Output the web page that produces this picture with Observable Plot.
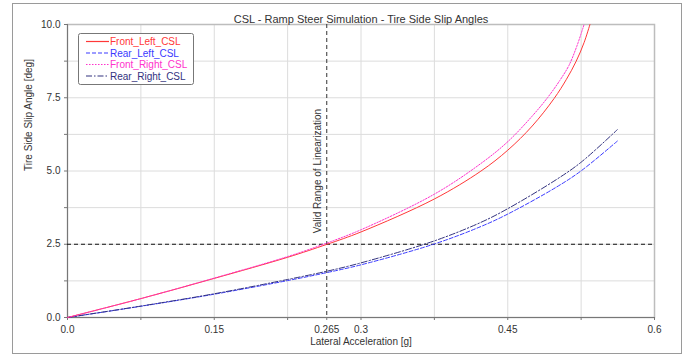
<!DOCTYPE html>
<html>
<head>
<meta charset="utf-8">
<script src="https://cdn.jsdelivr.net/npm/d3@7"></script>
<script src="https://cdn.jsdelivr.net/npm/@observablehq/plot@0.6"></script>
<style>
  html, body { margin: 0; padding: 0; background: #fff; }
  #wrap { position: relative; width: 686px; height: 356px; font-family: "Liberation Sans", Arial, sans-serif; }
  #border { position: absolute; left: 12px; top: 3px; width: 668px; height: 349px; border: 1px solid #9a9a9a; pointer-events: none; }
  #legend { position: absolute; left: 78px; top: 33px; }
</style>
</head>
<body>
<div id="wrap"><div id="border"></div></div>
<script>
// ---- data ----
const titleText = "CSL - Ramp Steer Simulation - Tire Side Slip Angles";
const xLabel = "Lateral Acceleration [g]";
const yLabel = "Tire Side Slip Angle [deg]";
const refLabel = "Valid Range of Linearization";
const refX = 0.265;
const refY = 2.5;

const xTicks = [0, 0.15, 0.265, 0.3, 0.45, 0.6];
const xTickLabels = ["0.0", "0.15", "0.265", "0.3", "0.45", "0.6"];
const xMinor = [0.075, 0.225, 0.375, 0.525];
const xGrid = [0.075, 0.15, 0.225, 0.3, 0.375, 0.45, 0.525];
const yTicks = [0, 2.5, 5, 7.5, 10];
const yTickLabels = ["0.0", "2.5", "5.0", "7.5", "10.0"];
const yMinor = [1.25, 3.75, 6.25, 8.75];
const yGrid = [1.25, 2.5, 3.75, 5, 6.25, 7.5, 8.75];

const seriesNames = ["Front_Left_CSL", "Rear_Left_CSL", "Front_Right_CSL", "Rear_Right_CSL"];
const seriesColors = ["#ff3838", "#3a3aff", "#ff33cc", "#33337f"];
const seriesDash = [null, "4,2", "1.5,1.5", "6,2,1.5,2"];

const gFrontLeft = [0, 0.075, 0.15, 0.225, 0.265, 0.3, 0.375, 0.4225, 0.45, 0.475, 0.4974, 0.51, 0.52, 0.528, 0.534];
const frontLeft  = [0, 0.645, 1.335, 2.055, 2.495, 2.92, 4.045, 4.995, 5.71, 6.535, 7.475, 8.13, 8.75, 9.38, 10.0];

const gFrontRight = [0, 0.075, 0.15, 0.225, 0.265, 0.3, 0.375, 0.4225, 0.45, 0.475, 0.4906, 0.503, 0.5125, 0.5205, 0.528];
const frontRight  = [0, 0.645, 1.345, 2.08, 2.54, 2.995, 4.21, 5.255, 6.0, 6.875, 7.5, 8.08, 8.6, 9.25, 10.0];

const gRear     = [0, 0.075, 0.15, 0.225, 0.265, 0.3, 0.375, 0.4225, 0.45, 0.5, 0.525, 0.562];
const rearLeft  = [0, 0.383, 0.795, 1.26, 1.532, 1.798, 2.51, 3.104, 3.53, 4.455, 5.005, 6.02];
const rearRight = [0, 0.39, 0.81, 1.298, 1.578, 1.865, 2.615, 3.246, 3.714, 4.714, 5.30, 6.41];

// ---- build tables ----
const toRows = (gs, vs) => gs.map((g, i) => ({g, v: vs[i]}));
const series = [
  toRows(gFrontLeft, frontLeft),
  toRows(gRear, rearLeft),
  toRows(gFrontRight, frontRight),
  toRows(gRear, rearRight)
];

const lineMarks = series.map((rows, k) =>
  Plot.line(rows, {
    x: "g", y: "v", curve: "catmull-rom",
    stroke: seriesColors[k], strokeWidth: 1,
    strokeDasharray: seriesDash[k] || undefined
  })
);
// draw order: rear first so fronts are on top
const ordered = [lineMarks[1], lineMarks[3], lineMarks[0], lineMarks[2]];

const chart = Plot.plot({
  width: 686, height: 356,
  marginLeft: 67, marginRight: 32, marginTop: 24, marginBottom: 39,
  style: { fontFamily: "'Liberation Sans', Arial, sans-serif", fontSize: "10px", color: "#333", background: "transparent", overflow: "visible" },
  x: { domain: [0, 0.6] },
  y: { domain: [0, 10] },
  marks: [
    Plot.gridX(xGrid, { stroke: "#dcdcdc", strokeOpacity: 1 }),
    Plot.gridY(yGrid, { stroke: "#dcdcdc", strokeOpacity: 1 }),
    Plot.frame({ stroke: "#bdbdbd", strokeWidth: 1.5 }),
    Plot.ruleX([0], { stroke: "#777" }),
    Plot.ruleY([0], { stroke: "#777" }),
    Plot.axisX(xMinor, { tickSize: 3, text: null, stroke: "#777", label: null }),
    Plot.axisX(xTicks, { tickSize: 3, tickPadding: 5, stroke: "#777", fill: "#333",
      tickFormat: d => xTickLabels[xTicks.indexOf(d)], label: null }),
    Plot.axisY(yMinor, { tickSize: 3, text: null, stroke: "#777", label: null }),
    Plot.axisY(yTicks, { tickSize: 3, tickPadding: 4, stroke: "#777", fill: "#333",
      tickFormat: d => yTickLabels[yTicks.indexOf(d)], label: null }),
    Plot.ruleX([refX], { stroke: "#333", strokeDasharray: "4,3", strokeWidth: 1 }),
    Plot.ruleY([refY], { stroke: "#111", strokeDasharray: "4,3", strokeWidth: 1 }),
    ...ordered,
    Plot.text([refLabel], { x: () => refX, y: () => refY, text: d => d, rotate: -90,
      textAnchor: "start", lineAnchor: "bottom", dx: -6, dy: -11, fill: "#333", fontSize: 10 }),
    Plot.text([titleText], { frameAnchor: "top", dy: -9, text: d => d, fill: "#333", fontSize: 11 }),
    Plot.text([xLabel], { frameAnchor: "bottom", dy: 27, text: d => d, fill: "#333", fontSize: 10 }),
    Plot.text([yLabel], { frameAnchor: "left", dx: -39, rotate: -90, text: d => d, fill: "#333", fontSize: 10 })
  ]
});
document.getElementById("wrap").prepend(chart);

// ---- legend ----
const lg = d3.select("#wrap").append("svg").attr("id", "legend")
  .attr("width", 116).attr("height", 52);
lg.append("rect").attr("x", 0.5).attr("y", 0.5).attr("width", 115).attr("height", 51)
  .attr("rx", 2).attr("fill", "#fff").attr("stroke", "#777");
seriesNames.forEach((name, k) => {
  const cy = 8.5 + k * 11.5;
  lg.append("line").attr("x1", 8).attr("x2", 31).attr("y1", cy).attr("y2", cy)
    .attr("stroke", seriesColors[k]).attr("stroke-width", 1.2)
    .attr("stroke-dasharray", seriesDash[k]);
  lg.append("text").attr("x", 32).attr("y", cy).attr("dy", "0.35em")
    .attr("fill", seriesColors[k]).attr("font-size", 10)
    .attr("font-family", "'Liberation Sans', Arial, sans-serif").text(name);
});
</script>
</body>
</html>
